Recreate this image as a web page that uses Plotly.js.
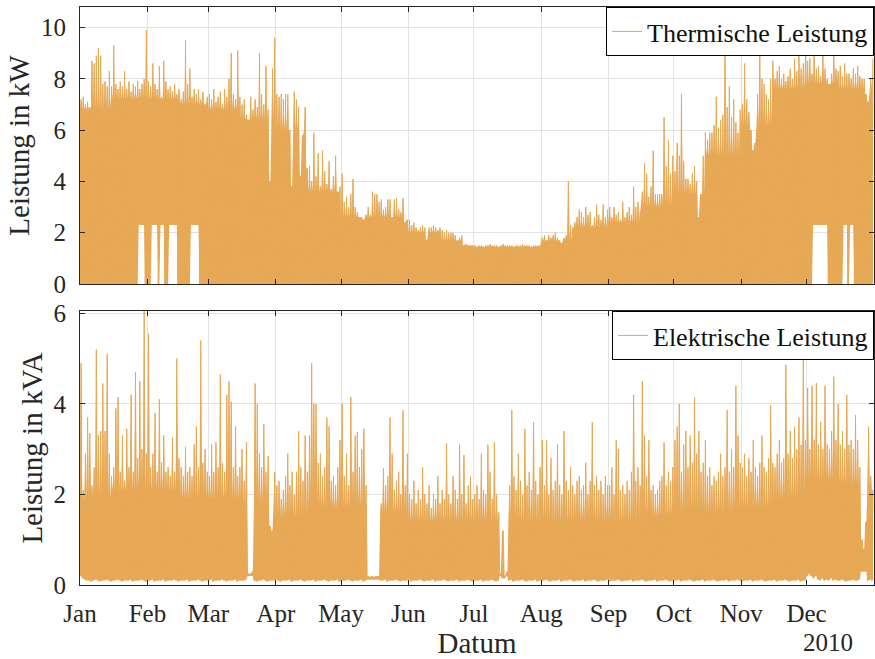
<!DOCTYPE html>
<html>
<head>
<meta charset="utf-8">
<script src="https://cdn.plot.ly/plotly-3.0.1.min.js"></script>
<style>
  html, body { margin: 0; padding: 0; background: #fff; }
  #chart { width: 875px; height: 659px; }
</style>
</head>
<body>
<div id="chart"></div>
<script>
// ---- Labels ----
const monthLabels = ['Jan','Feb','Mar','Apr','May','Jun','Jul','Aug','Sep','Oct','Nov','Dec'];
const monthStarts = ['2010-01-01','2010-02-01','2010-03-01','2010-04-01','2010-05-01','2010-06-01',
                     '2010-07-01','2010-08-01','2010-09-01','2010-10-01','2010-11-01','2010-12-01'];
const yearLabel = '2010';
const startDate = '2010-01-01';
const thermName = 'Thermische Leistung';
const elecName = 'Elektrische Leistung';
const thermTicks = [0, 2, 4, 6, 8, 10];
const elecTicks = [0, 2, 4, 6];

// ---- Thermal power, daily peak (kW), Jan..Dec ----
const thPeak = [
  7.2,7.3,7.0,7.1,6.9,8.7,8.6,8.9,9.2,8.9,7.8,7.9,7.7,8.3,7.7,9.3,7.8,7.6,7.9,7.7,8.3,7.6,7.9,7.5,7.8,7.7,7.9,7.6,7.8,8.0,9.9,
  7.9,7.7,8.6,7.8,7.6,8.5,7.3,8.7,7.9,7.6,7.7,7.5,7.8,7.4,7.6,7.2,7.5,9.5,7.8,8.4,7.3,7.6,7.4,7.6,7.2,7.5,7.0,7.3,
  7.4,7.2,7.6,7.1,7.3,7.5,7.0,7.6,7.3,8.0,9.0,7.4,7.2,9.1,7.3,7.0,7.2,6.6,6.4,7.3,6.8,7.2,6.9,9.0,7.4,7.0,8.5,6.8,4.0,8.4,9.6,
  7.4,7.3,7.4,7.2,7.4,7.4,6.0,3.8,7.5,7.2,6.9,4.2,5.8,6.9,4.5,4.6,4.0,5.9,4.2,5.1,3.8,5.2,4.4,3.9,4.8,3.7,4.2,5.0,3.6,3.8,
  4.3,3.2,3.4,3.0,3.5,4.1,3.0,2.8,2.6,2.6,2.5,2.7,3.0,2.7,3.6,3.5,3.5,3.2,3.3,2.9,3.0,3.3,3.3,2.6,3.3,3.35,2.9,2.8,3.35,2.4,2.5,
  2.5,2.3,2.4,2.2,2.1,2.2,2.3,2.2,1.7,2.2,2.2,2.3,2.2,2.1,2.2,2.1,2.0,2.1,2.0,2.0,2.0,1.9,1.7,1.8,1.9,1.5,1.55,1.5,1.5,1.5,
  1.5,1.45,1.5,1.5,1.45,1.5,1.5,1.55,1.5,1.5,1.5,1.45,1.5,1.55,1.5,1.5,1.5,1.5,1.45,1.5,1.5,1.5,1.55,1.5,1.5,1.5,1.45,1.5,1.5,1.5,1.5,
  1.8,1.9,1.7,1.9,1.8,1.9,2.0,1.8,1.7,1.6,1.8,1.9,4.0,2.3,2.2,2.4,2.6,2.9,2.8,2.6,3.0,2.7,2.8,2.3,2.6,3.1,2.7,2.5,3.1,2.6,2.9,
  3.0,2.6,3.0,2.7,2.8,2.5,3.2,2.6,2.8,3.0,2.7,3.8,3.0,3.2,2.8,3.6,4.7,4.3,3.4,3.8,5.2,3.5,3.5,3.5,3.5,6.5,4.6,5.6,4.3,5.0,
  4.4,5.5,5.0,7.4,4.8,4.1,4.1,3.9,4.3,4.6,4.0,2.6,3.5,5.0,5.9,5.6,5.9,5.9,6.2,7.3,6.1,6.4,6.6,9.3,6.9,7.7,6.5,7.2,6.3,5.9,6.8,
  7.0,8.6,7.2,6.7,6.0,5.2,5.5,7.4,9.0,8.0,7.8,7.4,7.2,8.0,8.7,8.0,8.3,8.5,8.0,8.2,7.9,8.1,8.4,8.0,8.8,8.3,9.0,8.4,8.6,9.3,
  8.7,8.8,8.2,9.1,8.4,8.5,8.1,8.9,8.4,8.0,7.8,8.2,9.3,8.4,8.3,8.5,8.1,8.6,8.2,8.2,8.0,8.4,8.2,8.5,8.1,8.0,8.0,7.4,7.1,8.0,8.8
];

// ---- Thermal power, daily minimum (kW) ----
const thLow = [
  0,0,0,0,0,0,0,0,0,0,0,0,0,0,0,0,0,0,0,0,0,0,0,0,0,0,0,2.3,2.3,2.3,0,
  0,0,2.3,2.3,2.3,0,2.3,2.3,0,0,2.3,2.3,2.3,2.3,0,0,0,0,0,0,2.3,2.3,2.3,2.3,0,0,0,0,
  0,0,0,0,0,0,0,0,0,0,0,0,0,0,0,0,0,0,0,0,0,0,0,0,0,0,0,0,0,0,0,
  0,0,0,0,0,0,0,0,0,0,0,0,0,0,0,0,0,0,0,0,0,0,0,0,0,0,0,0,0,0,
  0,0,0,0,0,0,0,0,0,0,0,0,0,0,0,0,0,0,0,0,0,0,0,0,0,0,0,0,0,0,0,
  0,0,0,0,0,0,0,0,0,0,0,0,0,0,0,0,0,0,0,0,0,0,0,0,0,0,0,0,0,0,
  0,0,0,0,0,0,0,0,0,0,0,0,0,0,0,0,0,0,0,0,0,0,0,0,0,0,0,0,0,0,0,
  0,0,0,0,0,0,0,0,0,0,0,0,0,0,0,0,0,0,0,0,0,0,0,0,0,0,0,0,0,0,0,
  0,0,0,0,0,0,0,0,0,0,0,0,0,0,0,0,0,0,0,0,0,0,0,0,0,0,0,0,0,0,
  0,0,0,0,0,0,0,0,0,0,0,0,0,0,0,0,0,0,0,0,0,0,0,0,0,0,0,0,0,0,0,
  0,0,0,0,0,0,0,0,0,0,0,0,0,0,0,0,0,0,0,0,0,0,0,0,0,0,0,0,0,0,
  0,0,0,2.3,2.3,2.3,2.3,2.3,2.3,2.3,0,0,0,0,0,0,0,2.3,2.3,0,2.3,2.3,0,0,0,0,0,0,0,0,0
];

// ---- Thermal dense-band top (kW), per half month (1st-15th, 16th-end) ----
const thCore = [6.8,7.2, 7.2,7.0, 6.8,6.4, 6.0,3.6, 2.6,2.6, 2.0,1.7,
                1.45,1.45, 1.7,2.2, 2.4,3.0, 3.5,5.0, 6.2,7.6, 7.8,7.6];

// ---- Electrical power, daily peak (kVA) ----
const elPeak = [
  4.9,2.1,2.9,3.7,3.35,2.2,2.6,5.2,3.3,3.4,4.45,3.4,5.1,2.9,2.4,2.6,3.9,4.15,2.5,3.3,2.3,3.45,2.6,4.2,2.5,4.7,2.8,4.5,3.0,6.05,2.9,
  5.55,2.6,2.9,3.8,2.5,4.1,2.7,3.3,2.5,2.6,2.4,3.25,2.5,5.0,2.8,2.6,2.4,3.05,2.5,2.6,2.4,3.1,3.5,2.6,5.4,2.7,3.0,2.5,
  2.4,3.1,2.5,3.15,2.6,4.65,2.7,2.5,4.2,4.5,4.05,2.6,3.5,2.4,2.6,3.0,2.3,3.15,0.25,0.25,0.3,4.45,4.0,2.9,2.6,3.55,2.5,2.85,1.3,1.2,2.5,
  2.2,2.3,1.9,2.1,2.4,2.9,2.2,2.5,2.0,2.5,3.4,2.6,2.3,3.3,2.5,3.3,4.9,4.0,4.0,2.7,2.9,2.4,2.6,3.7,3.5,2.3,2.4,2.2,2.6,3.2,
  4.0,2.4,2.9,2.2,4.15,2.5,3.3,3.38,2.6,3.0,3.45,2.2,0.2,0.18,0.2,0.18,0.2,0.2,1.8,2.58,2.2,2.4,3.7,2.9,2.1,2.3,2.5,2.0,3.86,2.2,2.9,
  2.0,1.9,2.3,1.8,2.1,1.9,2.6,2.0,1.8,2.2,1.7,2.0,1.9,2.4,1.8,2.1,1.9,3.13,2.0,1.8,2.4,2.1,1.9,3.1,2.0,2.87,1.8,2.2,2.4,1.9,
  2.0,2.2,1.9,2.9,2.1,2.0,3.1,2.5,1.9,3.15,2.0,1.6,0.25,1.2,0.2,0.3,2.2,3.86,2.4,2.1,2.9,2.3,2.0,3.45,2.2,2.5,2.1,3.6,2.3,2.0,2.6,
  3.2,2.2,3.2,2.0,2.8,2.1,2.3,3.1,2.2,2.0,3.4,2.3,2.1,2.6,2.2,2.0,2.3,2.4,2.1,2.2,2.7,2.0,2.3,3.6,2.2,2.4,2.1,2.3,2.0,2.4,2.2,
  2.2,2.6,2.0,3.2,3.0,2.1,2.2,2.0,2.3,2.1,2.5,4.2,2.3,2.6,2.2,4.5,3.3,2.4,3.2,2.1,2.2,2.0,2.1,2.3,2.4,3.15,2.2,2.5,2.3,2.6,
  3.2,3.5,4.0,2.5,3.1,3.4,2.6,3.3,2.7,4.15,2.9,3.4,2.5,2.7,3.2,2.4,2.6,2.2,2.4,2.3,2.5,2.9,2.4,2.6,3.86,2.5,3.0,2.6,4.4,3.3,2.7,
  2.6,2.9,2.4,2.8,2.5,3.2,2.6,2.4,2.7,3.3,2.6,2.5,2.8,3.97,2.7,2.6,2.9,3.2,2.7,2.8,4.86,2.9,3.4,2.8,3.5,3.0,3.7,3.1,5.2,3.2,
  4.35,3.0,4.4,3.2,4.46,3.1,3.6,3.0,4.4,3.1,3.0,3.4,4.6,3.2,4.0,3.1,3.4,3.0,4.2,3.1,3.2,3.0,3.75,3.2,2.6,1.0,0.8,1.4,3.5,2.4,2.1
];

// ---- Electrical power, daily minimum (kVA) ----
const elLow = [
  0.2,0.15,0.12,0.1,0.1,0.08,0.1,0.12,0.1,0.08,0.1,0.1,0.12,0.1,0.08,0.1,0.1,0.12,0.1,0.08,0.1,0.1,0.1,0.12,0.08,0.1,0.1,0.1,0.12,0.1,0.08,
  0.1,0.1,0.12,0.08,0.1,0.1,0.1,0.12,0.08,0.1,0.1,0.1,0.12,0.1,0.08,0.1,0.1,0.1,0.12,0.08,0.1,0.1,0.1,0.12,0.1,0.08,0.1,0.1,
  0.1,0.12,0.08,0.1,0.1,0.1,0.12,0.1,0.08,0.1,0.1,0.1,0.12,0.08,0.1,0.1,0.1,0.12,0.2,0.2,0.2,0.1,0.08,0.1,0.1,0.12,0.1,0.08,0.1,0.1,0.1,
  0.12,0.1,0.08,0.1,0.1,0.1,0.12,0.08,0.1,0.1,0.1,0.12,0.1,0.08,0.1,0.1,0.1,0.12,0.08,0.1,0.1,0.1,0.12,0.1,0.08,0.1,0.1,0.1,0.12,0.08,
  0.1,0.1,0.1,0.12,0.1,0.08,0.1,0.1,0.1,0.12,0.08,0.1,0.12,0.12,0.12,0.12,0.12,0.12,0.1,0.1,0.12,0.08,0.1,0.1,0.1,0.12,0.1,0.08,0.1,0.1,0.1,
  0.12,0.08,0.1,0.1,0.1,0.12,0.1,0.08,0.1,0.1,0.1,0.12,0.08,0.1,0.1,0.1,0.12,0.1,0.08,0.1,0.1,0.1,0.12,0.08,0.1,0.1,0.1,0.12,0.1,0.08,
  0.1,0.1,0.1,0.12,0.08,0.1,0.1,0.1,0.12,0.1,0.08,0.1,0.2,0.15,0.15,0.2,0.1,0.12,0.08,0.1,0.1,0.1,0.12,0.1,0.08,0.1,0.1,0.1,0.12,0.08,0.1,
  0.1,0.1,0.12,0.1,0.08,0.1,0.1,0.1,0.12,0.08,0.1,0.1,0.1,0.12,0.1,0.08,0.1,0.1,0.1,0.12,0.08,0.1,0.1,0.1,0.12,0.1,0.08,0.1,0.1,0.1,0.12,
  0.08,0.1,0.1,0.1,0.12,0.1,0.08,0.1,0.1,0.1,0.12,0.08,0.1,0.1,0.1,0.12,0.1,0.08,0.1,0.1,0.1,0.12,0.08,0.1,0.1,0.1,0.12,0.1,0.08,0.1,
  0.1,0.1,0.12,0.08,0.1,0.1,0.1,0.12,0.1,0.08,0.1,0.1,0.1,0.12,0.08,0.1,0.1,0.1,0.12,0.1,0.08,0.1,0.1,0.1,0.12,0.08,0.1,0.1,0.1,0.12,0.1,
  0.08,0.1,0.1,0.1,0.12,0.08,0.1,0.1,0.1,0.12,0.1,0.08,0.1,0.1,0.1,0.12,0.08,0.1,0.1,0.1,0.12,0.1,0.08,0.1,0.1,0.1,0.12,0.08,0.1,0.1,
  0.2,0.25,0.2,0.15,0.2,0.12,0.1,0.15,0.1,0.12,0.1,0.15,0.1,0.12,0.1,0.1,0.12,0.1,0.08,0.1,0.1,0.12,0.1,0.1,0.12,0.3,0.3,0.3,0.1,0.12,0.1
];

// ---- Electrical dense-band top (kVA), per half month ----
const elCore = [1.9,2.1, 2.1,1.9, 1.9,1.8, 1.5,1.7, 1.7,1.6, 1.4,1.4,
                1.4,1.4, 1.4,1.4, 1.4,1.5, 1.6,1.6, 1.7,1.9, 2.3,2.2];

// ---- Build series ----
const DAY = 86400000;
function fmt(ms) {
  return new Date(ms).toISOString().slice(0, 19).replace('T', ' ');
}
const t0 = Date.parse(startDate + 'T00:00:00Z');
function halfIndex(ms) {
  const dt = new Date(ms);
  return dt.getUTCMonth() * 2 + (dt.getUTCDate() <= 15 ? 0 : 1);
}
// Each day: starts at day begin, reaches its peak at midday.
function build(low, peak, core) {
  const x = [], yLine = [], yLow = [], yTop = [];
  for (let d = 0; d < peak.length; d++) {
    const ms = t0 + d * DAY;
    const band = Math.min(peak[d], core[halfIndex(ms)]);
    x.push(fmt(ms));           yLine.push(low[d]);  yLow.push(low[d]); yTop.push(band);
    x.push(fmt(ms + DAY / 2)); yLine.push(peak[d]); yLow.push(low[d]); yTop.push(peak[d]);
  }
  return { x, yLine, yLow, yTop };
}

const lineColor = 'rgb(231,169,86)';
const sTh = build(thLow, thPeak, thCore);
const sEl = build(elLow, elPeak, elCore);

function tracesFor(s, xa, ya, name, legend) {
  return [
    { type: 'scatter', mode: 'lines', x: s.x, y: s.yLow, xaxis: xa, yaxis: ya,
      line: { width: 0, color: lineColor }, showlegend: false, hoverinfo: 'skip' },
    { type: 'scatter', mode: 'lines', x: s.x, y: s.yTop, xaxis: xa, yaxis: ya,
      fill: 'tonexty', fillcolor: lineColor,
      line: { width: 0, color: lineColor }, showlegend: false, hoverinfo: 'skip' },
    { type: 'scatter', mode: 'lines', name: name, x: s.x, y: s.yLine, xaxis: xa, yaxis: ya,
      legend: legend, line: { color: lineColor, width: 1 } }
  ];
}

const traces = [].concat(
  tracesFor(sTh, 'x', 'y', thermName, 'legend'),
  tracesFor(sEl, 'x2', 'y2', elecName, 'legend2')
);

const FONT = 'Liberation Serif, Times New Roman, serif';
const axisCol = '#262626';
const common = {
  showline: true, linecolor: axisCol, linewidth: 1, mirror: 'ticks',
  ticks: 'inside', ticklen: 5, tickwidth: 1, tickcolor: axisCol,
  showgrid: true, gridcolor: '#e2e2e2', gridwidth: 1, zeroline: false,
  tickfont: { family: FONT, size: 25, color: axisCol }
};
const xRange = ['2010-01-01 00:00:00', '2011-01-01 00:00:00'];
const titleFont = { family: FONT, size: 29, color: axisCol };

const layout = {
  width: 875, height: 659,
  margin: { l: 80, r: 1, t: 7, b: 74 },
  paper_bgcolor: '#fff', plot_bgcolor: '#fff',
  font: { family: FONT, color: axisCol },
  xaxis: Object.assign({}, common, {
    domain: [0, 1], anchor: 'y', type: 'date', range: xRange,
    tickmode: 'array', tickvals: monthStarts, ticktext: monthLabels,
    showticklabels: false
  }),
  xaxis2: Object.assign({}, common, {
    domain: [0, 1], anchor: 'y2', type: 'date', range: xRange,
    tickmode: 'array', tickvals: monthStarts, ticktext: monthLabels,
    ticklabelstandoff: 6,
    title: { text: 'Datum', font: titleFont, standoff: 5 }
  }),
  yaxis: Object.assign({}, common, {
    domain: [0.5208, 1], anchor: 'x', range: [0, 10.8],
    tickmode: 'array', tickvals: thermTicks, ticklabelstandoff: 8,
    title: { text: 'Leistung in kW', font: titleFont, standoff: 2 }
  }),
  yaxis2: Object.assign({}, common, {
    domain: [0, 0.474], anchor: 'x2', range: [0, 6.05],
    tickmode: 'array', tickvals: elecTicks, ticklabelstandoff: 8,
    title: { text: 'Leistung in kVA', font: titleFont, standoff: 2 }
  }),
  showlegend: true,
  legend: {
    x: 1, xanchor: 'right', y: 1, yanchor: 'top',
    bgcolor: '#fff', bordercolor: '#000', borderwidth: 1,
    font: { family: FONT, size: 26, color: '#111' },
    itemwidth: 30, tracegroupgap: 0
  },
  legend2: {
    x: 1, xanchor: 'right', y: 0.474, yanchor: 'top',
    bgcolor: '#fff', bordercolor: '#000', borderwidth: 1,
    font: { family: FONT, size: 26, color: '#111' },
    itemwidth: 30, tracegroupgap: 0
  },
  annotations: [{
    text: yearLabel, xref: 'paper', yref: 'paper', x: 0.942, y: -0.1,
    xanchor: 'center', yanchor: 'middle', showarrow: false,
    font: { family: FONT, size: 25, color: axisCol }
  }]
};

Plotly.newPlot('chart', traces, layout, { displayModeBar: false, staticPlot: true });
</script>
</body>
</html>
